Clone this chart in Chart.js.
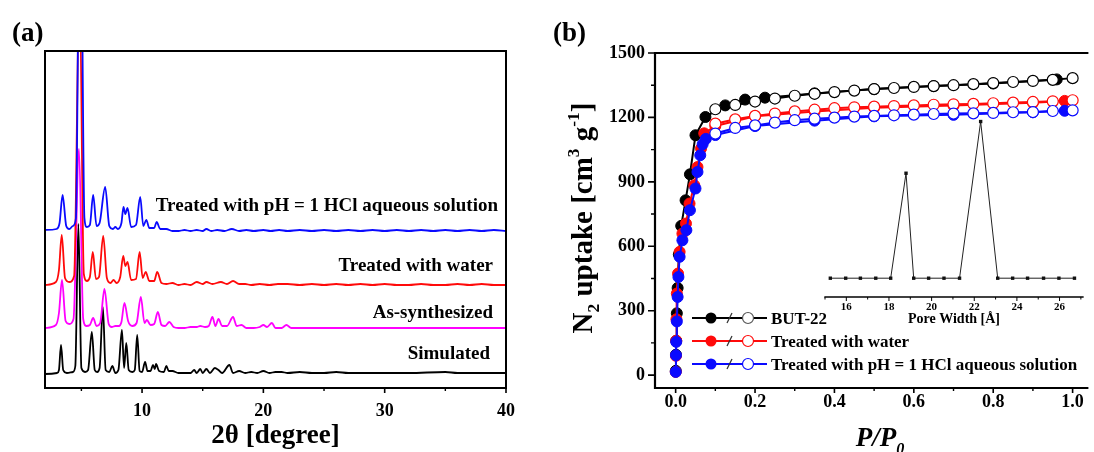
<!DOCTYPE html>
<html>
<head>
<meta charset="utf-8">
<script src="https://cdn.jsdelivr.net/npm/chart.js@4.4.0/dist/chart.umd.min.js"></script>
<style>
  html, body { margin: 0; padding: 0; background: #fff; }
  #wrap { position: relative; width: 1094px; height: 452px; }
  canvas { position: absolute; left: 0; top: 0; }
</style>
</head>
<body>
<div id="wrap">
  <canvas id="xrd" width="1094" height="452"></canvas>
  <canvas id="iso" width="1094" height="452"></canvas>
  <canvas id="psd" width="1094" height="452"></canvas>
</div>
<script>
// ---------- panel (a): PXRD patterns, [2theta, intensity (a.u.)]
const twoThetaTicks = [10, 20, 30, 40];
const twoThetaMinor = [5, 15, 25, 35];

const xrdSimulated = [
  [2, 0], [3.0, 1], [3.15, 4], [3.32, 29], [3.5, 4], [3.8, 1], [4.3, 2], [4.5, 8], [4.75, 150], [5.0, 6],
  [5.3, 2], [5.55, 4], [5.86, 42], [6.1, 4], [6.3, 2], [6.5, 6], [6.77, 67], [7.0, 4], [7.3, 2], [7.55, 8],
  [7.8, 1], [8.05, 4], [8.34, 44], [8.52, 6], [8.7, 31], [8.9, 4], [9.2, 2], [9.4, 4], [9.6, 39], [9.8, 3],
  [10.0, 2], [10.25, 12], [10.45, 3], [10.7, 3], [10.9, 9], [11.05, 5], [11.15, 10], [11.4, 3], [11.8, 2], [12.0, 8],
  [12.2, 3], [12.5, 3], [13, 1], [13.5, 1], [14.0, 1], [14.3, 4], [14.5, 1], [14.8, 5], [15.0, 1], [15.3, 5],
  [15.6, 1], [16.0, 6], [16.3, 4], [16.6, 1], [17.2, 9], [17.5, 1], [18.0, 3], [18.5, 1], [19.0, 2], [19.5, 1],
  [20.0, 3], [20.5, 1], [21.0, 2], [21.5, 2], [22, 1], [23, 2], [24, 1], [25, 1], [26, 2], [27, 1],
  [28, 1], [30, 1], [32, 1], [35, 2], [36, 1], [38, 1], [40, 1]
];
const xrdAsSynth = [
  [2, 1], [2.9, 4], [3.15, 16], [3.4, 49], [3.7, 8], [4.0, 5], [4.35, 10], [4.8, 180], [5.15, 10], [5.4, 3],
  [5.7, 4], [5.97, 11], [6.25, 3], [6.55, 6], [6.9, 40], [7.25, 5], [7.5, 2], [7.8, 3], [8.1, 3], [8.3, 7],
  [8.55, 26], [8.85, 8], [9.2, 3], [9.55, 6], [9.9, 32], [10.2, 6], [10.4, 9], [10.7, 4], [11.0, 5], [11.3, 17],
  [11.6, 4], [11.9, 3], [12.25, 7], [12.6, 2], [13, 1], [13.5, 1], [14, 2], [14.5, 2], [14.8, 3], [15.2, 2],
  [15.5, 3], [15.8, 12], [16.05, 3], [16.3, 10], [16.6, 3], [17, 3], [17.5, 12], [17.8, 3], [18.2, 4], [18.6, 1],
  [19.2, 1], [19.7, 2], [20.0, 4], [20.3, 2], [20.7, 6], [21.0, 1], [21.5, 1], [21.9, 4], [22.3, 1], [23, 1],
  [24, 1], [25, 1], [26, 1], [27, 1], [28, 1], [29, 1], [30, 1], [32, 1], [34, 1], [36, 1], [38, 1], [40, 1]
];
const xrdWater = [
  [2, 1], [2.9, 4], [3.15, 16], [3.38, 51], [3.65, 8], [4.0, 4], [4.4, 10], [4.85, 300], [5.2, 12], [5.45, 5],
  [5.7, 9], [5.94, 34], [6.2, 7], [6.45, 9], [6.8, 50], [7.1, 8], [7.4, 3], [7.65, 6], [7.9, 3], [8.2, 9],
  [8.45, 30], [8.62, 20], [8.8, 24], [9.1, 6], [9.5, 7], [9.8, 34], [10.05, 8], [10.3, 14], [10.6, 5], [11, 5],
  [11.25, 14], [11.6, 3], [12, 2], [12.5, 3], [13, 1], [13.5, 2], [14, 1], [14.5, 4], [15, 2], [15.3, 4],
  [15.8, 2], [16.5, 4], [17, 2], [17.5, 5], [18, 2], [18.5, 2], [19, 1], [19.7, 2], [20.5, 1], [21.2, 2],
  [22, 2], [23, 1], [24, 2], [25, 1], [26, 2], [27, 1], [28, 2], [29, 1], [30, 2], [31, 1],
  [32, 1], [33, 2], [34, 1], [35, 1], [36, 2], [37, 1], [38, 2], [39, 1], [40, 1]
];
const xrdAcid = [
  [2, 2], [2.95, 3], [3.2, 9], [3.45, 37], [3.75, 6], [4.0, 3], [4.3, 6], [4.55, 14], [4.9, 400], [5.25, 14],
  [5.45, 5], [5.7, 7], [5.97, 37], [6.25, 6], [6.5, 9], [6.96, 45], [7.3, 6], [7.6, 3], [7.8, 5], [8.0, 3],
  [8.3, 9], [8.47, 25], [8.62, 18], [8.8, 24], [9.1, 5], [9.5, 7], [9.85, 35], [10.1, 6], [10.35, 12], [10.6, 4],
  [11.0, 4], [11.2, 10], [11.5, 3], [12, 3], [12.5, 1], [13, 1], [13.5, 2], [14, 1], [14.5, 2], [15, 1],
  [15.3, 3], [15.7, 1], [16.2, 2], [16.8, 1], [17.4, 3], [18, 1], [18.6, 2], [19.2, 1], [20, 2], [20.6, 1],
  [21.3, 2], [22, 1], [23, 2], [24, 1], [25, 2], [26, 1], [27, 2], [28, 1], [29, 2], [30, 1],
  [31, 2], [32, 1], [33, 2], [34, 1], [35, 2], [36, 1], [37, 2], [38, 1], [39, 2], [40, 1]
];
// vertical offsets of the stacked patterns (a.u.)
const xrdShift = { simulated: 14, asSynth: 59, water: 102, acid: 156 };

// ---------- panel (b): N2 isotherms, P/P0 vs uptake (cm3/g)
const pTicks = [0, 0.2, 0.4, 0.6, 0.8, 1.0];
const pMinor = [0.1, 0.3, 0.5, 0.7, 0.9];
const uptakeTicks = [0, 300, 600, 900, 1200, 1500];
const uptakeMinor = [150, 450, 750, 1050, 1350];

const desP = [0.10, 0.15, 0.20, 0.25, 0.30, 0.35, 0.40, 0.45, 0.50, 0.55, 0.60, 0.65, 0.70, 0.75, 0.80, 0.85, 0.90, 0.95, 1.00];
const butDes = [1238, 1258, 1274, 1288, 1301, 1310, 1318, 1325, 1332, 1337, 1342, 1346, 1350, 1355, 1360, 1365, 1370, 1375, 1383];
const waterDes = [1171, 1191, 1207, 1218, 1228, 1236, 1243, 1247, 1250, 1253, 1256, 1259, 1261, 1263, 1266, 1269, 1272, 1275, 1280];
const acidDes = [1125, 1151, 1163, 1176, 1187, 1194, 1199, 1204, 1207, 1210, 1213, 1216, 1218, 1219, 1221, 1224, 1225, 1230, 1233];

const butAdsP = [0.0003, 0.0008, 0.0015, 0.003, 0.005, 0.008, 0.014, 0.025, 0.036, 0.05, 0.075, 0.125, 0.175, 0.225, 0.35, 0.5, 0.65, 0.8, 0.96];
const butAds = [20, 95, 160, 288, 406, 562, 695, 814, 935, 1117, 1202, 1256, 1283, 1292, 1312, 1332, 1346, 1358, 1377];
const waterAdsP = [0.0003, 0.0008, 0.0015, 0.002, 0.003, 0.006, 0.01, 0.017, 0.026, 0.035, 0.047, 0.055, 0.064, 0.072, 0.1, 0.2, 0.35, 0.5, 0.7, 0.9, 0.98];
const waterAds = [15, 90, 160, 260, 380, 473, 574, 659, 706, 799, 884, 969, 1055, 1126, 1160, 1205, 1228, 1245, 1255, 1268, 1277];
const acidAdsP = [0.0003, 0.0008, 0.0015, 0.003, 0.005, 0.007, 0.01, 0.017, 0.027, 0.036, 0.05, 0.055, 0.062, 0.068, 0.076, 0.1, 0.2, 0.35, 0.5, 0.7, 0.9, 0.98];
const acidAds = [15, 93, 155, 250, 364, 457, 551, 628, 675, 768, 869, 946, 1024, 1075, 1100, 1118, 1160, 1185, 1205, 1212, 1224, 1231];

// inset: pore size distribution (normalised)
const poreWidth = [15.25, 15.97, 16.66, 17.38, 18.08, 18.8, 19.16, 19.86, 20.58, 21.31, 22.3, 23.1, 23.8, 24.5, 25.25, 25.97, 26.7];
const poreVol = [0, 0, 0, 0, 0, 0.67, 0, 0, 0, 0, 1.0, 0, 0, 0, 0, 0, 0];
const poreTicks = [16, 18, 20, 22, 24, 26];
const poreMinor = [15, 17, 19, 21, 23, 25, 27];

// ---------- helpers
const SERIF = "'Liberation Serif', 'Times New Roman', serif";
const BLUE = '#0a0aff';
const RED = '#ff0a0a';
const MAGENTA = '#ff00ff';

function fnt(size, style) {
  return (style || 'bold') + ' ' + size + 'px ' + SERIF;
}

// parts: [text, sizeFactor, dyFactor]
function drawRich(ctx, x, y, parts, o) {
  const size = o.size;
  ctx.save();
  ctx.translate(x, y);
  if (o.rotate) ctx.rotate(o.rotate);
  ctx.fillStyle = '#000';
  ctx.textBaseline = 'alphabetic';
  ctx.textAlign = 'left';
  let w = 0;
  parts.forEach(p => {
    ctx.font = fnt(size * (p[1] || 1), o.style);
    w += ctx.measureText(p[0]).width;
  });
  let cx = o.align === 'left' ? 0 : (o.align === 'right' ? -w : -w / 2);
  const base = size * 0.34;
  parts.forEach(p => {
    ctx.font = fnt(size * (p[1] || 1), o.style);
    ctx.fillText(p[0], cx, base + size * (p[2] || 0));
    cx += ctx.measureText(p[0]).width;
  });
  ctx.restore();
}

// frame, outward ticks and loose texts
const decor = {
  id: 'decor',
  afterDraw(chart, args, o) {
    const { ctx, chartArea: a } = chart;
    ctx.save();
    ctx.strokeStyle = '#000';
    if (o.frame) {
      ctx.lineWidth = o.frame.width;
      ctx.lineCap = 'square';
      ctx.beginPath();
      o.frame.sides.forEach(s => {
        if (s === 'top') { ctx.moveTo(a.left, a.top); ctx.lineTo(a.right, a.top); }
        if (s === 'bottom') { ctx.moveTo(a.left, a.bottom); ctx.lineTo(a.right, a.bottom); }
        if (s === 'left') { ctx.moveTo(a.left, a.top); ctx.lineTo(a.left, a.bottom); }
        if (s === 'right') { ctx.moveTo(a.right, a.top); ctx.lineTo(a.right, a.bottom); }
      });
      ctx.stroke();
    }
    ctx.lineCap = 'butt';
    (o.ticks || []).forEach(t => {
      const sc = chart.scales[t.axis];
      ctx.lineWidth = t.width || 1.5;
      ctx.beginPath();
      t.values.forEach(v => {
        const p = sc.getPixelForValue(v);
        if (t.axis === 'x') { ctx.moveTo(p, a.bottom); ctx.lineTo(p, a.bottom + t.len); }
        else { ctx.moveTo(a.left, p); ctx.lineTo(a.left - t.len, p); }
      });
      ctx.stroke();
    });
    (o.texts || []).forEach(t => drawRich(ctx, t.x, t.y, t.parts, t));
    if (o.extra) o.extra(ctx, chart);
    ctx.restore();
  }
};
Chart.register(decor);

const tickFont = { family: SERIF, size: 18, weight: 'bold' };

// ---------- panel (a)
function xrdSet(pattern, shift, color) {
  return {
    data: pattern.map(p => ({ x: p[0], y: p[1] + shift })),
    borderColor: color,
    borderWidth: 1.8,
    pointRadius: 0,
    cubicInterpolationMode: 'monotone'
  };
}

new Chart(document.getElementById('xrd'), {
  type: 'line',
  data: {
    datasets: [
      xrdSet(xrdAcid, xrdShift.acid, BLUE),
      xrdSet(xrdWater, xrdShift.water, RED),
      xrdSet(xrdAsSynth, xrdShift.asSynth, MAGENTA),
      xrdSet(xrdSimulated, xrdShift.simulated, '#000')
    ]
  },
  options: {
    responsive: false,
    animation: false,
    events: [],
    layout: { padding: { left: 45, top: 51, right: 1094 - 506, bottom: 0 } },
    scales: {
      x: {
        type: 'linear', min: 2, max: 40,
        grid: { display: false, drawTicks: false },
        border: { display: false },
        afterBuildTicks: s => { s.ticks = twoThetaTicks.map(v => ({ value: v })); },
        afterFit: s => { s.height = 452 - 388; },
        ticks: { font: tickFont, color: '#000', padding: 13, maxRotation: 0, autoSkip: false },
        title: { display: true, text: '2θ [degree]', color: '#000', font: { family: SERIF, size: 27, weight: 'bold' }, padding: 0 }
      },
      y: { type: 'linear', min: 0, max: 337, display: false }
    },
    plugins: {
      legend: { display: false },
      tooltip: { enabled: false },
      decor: {
        frame: { width: 2, sides: ['top', 'right', 'bottom', 'left'] },
        ticks: [
          { axis: 'x', values: twoThetaTicks, len: 5, width: 1.6 },
          { axis: 'x', values: twoThetaMinor, len: 3, width: 1.4 }
        ],
        texts: [
          { x: 12, y: 32, size: 27, align: 'left', parts: [['(a)']] },
          { x: 498, y: 205, size: 19, align: 'right', parts: [['Treated with pH = 1 HCl aqueous solution']] },
          { x: 493, y: 265, size: 19, align: 'right', parts: [['Treated with water']] },
          { x: 493, y: 312, size: 19, align: 'right', parts: [['As-synthesized']] },
          { x: 490, y: 353, size: 19, align: 'right', parts: [['Simulated']] }
        ]
      }
    }
  }
});

// ---------- panel (b)
function pts(xs, ys) {
  return xs.map((x, i) => ({ x: x, y: ys[i] }));
}
function filledSet(xs, ys, color) {
  return {
    data: pts(xs, ys), borderColor: color, borderWidth: 2,
    pointRadius: 5.5, pointBackgroundColor: color, pointBorderColor: color, pointBorderWidth: 1,
    tension: 0
  };
}
function openSet(xs, ys, color) {
  return {
    data: pts(xs, ys), borderColor: color, borderWidth: 2,
    pointRadius: 5.5, pointBackgroundColor: '#fff', pointBorderColor: color, pointBorderWidth: 1.2,
    tension: 0
  };
}

function drawIsoLegend(ctx) {
  const rows = [
    ['#000', '#555', 'BUT-22', 318],
    [RED, RED, 'Treated with water', 341],
    [BLUE, BLUE, 'Treated with pH = 1 HCl aqueous solution', 364]
  ];
  rows.forEach(r => {
    const y = r[3];
    ctx.strokeStyle = r[0];
    ctx.lineWidth = 2;
    ctx.beginPath(); ctx.moveTo(692, y); ctx.lineTo(767, y); ctx.stroke();
    ctx.fillStyle = r[0];
    ctx.beginPath(); ctx.arc(711, y, 5.5, 0, Math.PI * 2); ctx.fill();
    ctx.strokeStyle = '#333';
    ctx.lineWidth = 1.2;
    ctx.beginPath(); ctx.moveTo(727, y + 5); ctx.lineTo(732, y - 5); ctx.stroke();
    ctx.fillStyle = '#fff';
    ctx.strokeStyle = r[1];
    ctx.beginPath(); ctx.arc(748, y, 5.5, 0, Math.PI * 2); ctx.fill(); ctx.stroke();
    drawRich(ctx, 771, y, [[r[2]]], { size: 17, align: 'left' });
  });
}

new Chart(document.getElementById('iso'), {
  type: 'line',
  data: {
    datasets: [
      openSet(desP, acidDes, BLUE),
      filledSet(acidAdsP, acidAds, BLUE),
      openSet(desP, waterDes, RED),
      filledSet(waterAdsP, waterAds, RED),
      openSet(desP, butDes, '#000'),
      filledSet(butAdsP, butAds, '#000')
    ]
  },
  options: {
    responsive: false,
    animation: false,
    events: [],
    layout: { padding: { left: 655 - 80, top: 53, right: 0, bottom: 0 } },
    scales: {
      x: {
        type: 'linear', min: -0.052, max: 1.037,
        grid: { display: false, drawTicks: false },
        border: { display: false },
        afterBuildTicks: s => { s.ticks = pTicks.map(v => ({ value: v })); },
        afterFit: s => { s.height = 452 - 388; },
        ticks: { font: tickFont, color: '#000', padding: 4, maxRotation: 0, autoSkip: false, callback: v => v.toFixed(1) }
      },
      y: {
        type: 'linear', min: -60, max: 1500,
        grid: { display: false, drawTicks: false },
        border: { display: false },
        afterBuildTicks: s => { s.ticks = uptakeTicks.map(v => ({ value: v })); },
        afterFit: s => { s.width = 80; },
        ticks: { font: tickFont, color: '#000', padding: 10, autoSkip: false, callback: v => String(v) }
      }
    },
    plugins: {
      legend: { display: false },
      tooltip: { enabled: false },
      decor: {
        frame: { width: 2.2, sides: ['top', 'left', 'bottom'] },
        ticks: [
          { axis: 'x', values: pTicks, len: 5, width: 1.6 },
          { axis: 'x', values: pMinor, len: 3, width: 1.4 },
          { axis: 'y', values: uptakeTicks, len: 7, width: 1.6 },
          { axis: 'y', values: uptakeMinor, len: 4, width: 1.4 }
        ],
        texts: [
          { x: 553, y: 32, size: 27, align: 'left', parts: [['(b)']] },
          { x: 880, y: 437, size: 27, style: 'italic bold', parts: [['P/P'], ['0', 0.6, 0.3]] },
          { x: 582, y: 218, size: 29, rotate: -Math.PI / 2,
            parts: [['N'], ['2', 0.6, 0.25], [' uptake [cm'], ['3', 0.6, -0.45], [' g'], ['-1', 0.6, -0.45], [']']] }
        ],
        extra: drawIsoLegend
      }
    }
  }
});

// ---------- inset of panel (b)
new Chart(document.getElementById('psd'), {
  type: 'line',
  data: {
    datasets: [{
      data: pts(poreWidth, poreVol),
      borderColor: '#222', borderWidth: 1,
      pointStyle: 'rect', pointRadius: 2.4, pointBackgroundColor: '#111', pointBorderColor: '#111', pointBorderWidth: 0,
      tension: 0
    }]
  },
  options: {
    responsive: false,
    animation: false,
    events: [],
    layout: { padding: { left: 825, top: 109, right: 1094 - 1083, bottom: 452 - 332 } },
    scales: {
      x: {
        type: 'linear', min: 15, max: 27.1,
        grid: { display: false, drawTicks: false },
        border: { display: false },
        afterBuildTicks: s => { s.ticks = poreTicks.map(v => ({ value: v })); },
        afterFit: s => { s.height = 332 - 297; },
        ticks: { font: { family: SERIF, size: 11, weight: 'bold' }, color: '#000', padding: 4, maxRotation: 0, autoSkip: false },
        title: { display: true, text: 'Pore Width [Å]', color: '#000', font: { family: SERIF, size: 14, weight: 'bold' }, padding: { top: 0, bottom: 4 } }
      },
      y: { type: 'linear', min: -0.12, max: 1.08, display: false }
    },
    plugins: {
      legend: { display: false },
      tooltip: { enabled: false },
      decor: {
        frame: { width: 1.3, sides: ['bottom'] },
        ticks: [
          { axis: 'x', values: poreTicks, len: 4, width: 1 },
          { axis: 'x', values: poreMinor, len: 2.5, width: 1 }
        ]
      }
    }
  }
});
</script>
</body>
</html>
